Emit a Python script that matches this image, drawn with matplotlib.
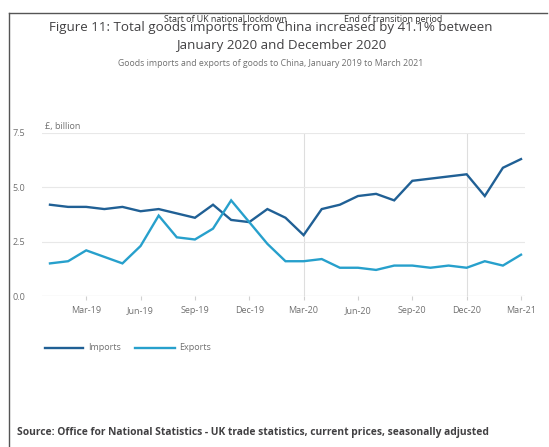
import matplotlib
matplotlib.use("Agg")
import matplotlib.pyplot as plt
from matplotlib.lines import Line2D

plt.rcParams['font.family'] = ['Open Sans', 'DejaVu Sans']

months = ["Jan-19", "Feb-19", "Mar-19", "Apr-19", "May-19", "Jun-19", "Jul-19", "Aug-19", "Sep-19",
          "Oct-19", "Nov-19", "Dec-19", "Jan-20", "Feb-20", "Mar-20", "Apr-20", "May-20", "Jun-20",
          "Jul-20", "Aug-20", "Sep-20", "Oct-20", "Nov-20", "Dec-20", "Jan-21", "Feb-21", "Mar-21"]
imports = [4.2, 4.1, 4.1, 4.0, 4.1, 3.9, 4.0, 3.8, 3.6, 4.2, 3.5, 3.4, 4.0, 3.6, 2.8, 4.0, 4.2,
           4.6, 4.7, 4.4, 5.3, 5.4, 5.5, 5.6, 4.6, 5.9, 6.3]
exports = [1.5, 1.6, 2.1, 1.8, 1.5, 2.3, 3.7, 2.7, 2.6, 3.1, 4.4, 3.4, 2.4, 1.6, 1.6, 1.7, 1.3,
           1.3, 1.2, 1.4, 1.4, 1.3, 1.4, 1.3, 1.6, 1.4, 1.9]
yticks = [0.0, 2.5, 5.0, 7.5]
tick_labels = ["Mar-19", "Jun-19", "Sep-19", "Dec-19", "Mar-20", "Jun-20", "Sep-20", "Dec-20", "Mar-21"]
events = [("Mar-20", "Start of UK national lockdown"), ("Dec-20", "End of transition period")]

IMP = "#206095"
EXP = "#27a0cc"
W, H = 549, 447
fig = plt.figure(figsize=(W / 100, H / 100), dpi=100)

ax = fig.add_axes([42 / W, 1 - 296 / H, (525 - 42) / W, (296 - 133) / H])
x = list(range(len(months)))
ax.plot(x, imports, color=IMP, lw=1.7, solid_joinstyle='miter')
ax.plot(x, exports, color=EXP, lw=1.7, solid_joinstyle='miter')
ax.set_xlim(-0.44, 26.22)
ax.set_ylim(0, 7.5)
ax.set_yticks(yticks)
ax.set_yticklabels([f"{v:.1f}" for v in yticks])
ax.grid(axis='y', color='#e8e8e8', lw=0.8)
ax.set_axisbelow(True)
tpos = [months.index(m) for m in tick_labels]
ax.set_xticks(tpos)
ax.set_xticklabels(tick_labels)
for s in ax.spines.values():
    s.set_visible(False)
ax.axhline(0, color='#d0d0d0', lw=0.8, zorder=0)
ax.tick_params(axis='x', colors='#d0d0d0', length=3, width=0.8, labelcolor='#707070', labelsize=6.5, pad=4)
ax.tick_params(axis='y', length=0, labelcolor='#707070', labelsize=6.5, pad=12)
for m, _ in events:
    ax.axvline(months.index(m), color='#dedede', lw=0.8, zorder=0)

ax.text(-0.3, 7.6, "£, billion", fontsize=6.5, color='#707070', va='bottom', ha='left')

# event labels (rendered up near the title, as in the original)
fig.text(225 / W, 1 - 20 / H, events[0][1], fontsize=6.4, color='#333333', ha='center', va='center')
fig.text(393 / W, 1 - 20 / H, events[1][1], fontsize=6.4, color='#333333', ha='center', va='center')

fig.text(271 / W, 1 - 27 / H, "Figure 11: Total goods imports from China increased by 41.1% between",
         fontsize=9.6, color='#414042', ha='center', va='center')
fig.text(281 / W, 1 - 45 / H, "January 2020 and December 2020",
         fontsize=9.6, color='#414042', ha='center', va='center')
fig.text(271 / W, 1 - 64 / H, "Goods imports and exports of goods to China, January 2019 to March 2021",
         fontsize=6.35, color='#707070', ha='center', va='center')

# legend
fig.add_artist(Line2D([45 / W, 83 / W], [1 - 348 / H] * 2, color=IMP, lw=1.7))
fig.text(88 / W, 1 - 348 / H, "Imports", fontsize=6.5, color='#707070', va='center')
fig.add_artist(Line2D([135 / W, 175 / W], [1 - 348 / H] * 2, color=EXP, lw=1.7))
fig.text(179 / W, 1 - 348 / H, "Exports", fontsize=6.5, color='#707070', va='center')

fig.text(17 / W, 1 - 433 / H, "Source: Office for National Statistics - UK trade statistics, current prices, seasonally adjusted",
         fontsize=7.35, fontweight='bold', color='#414042', ha='left', va='center')

# frame
fig.add_artist(Line2D([9 / W, 9 / W], [0, 1 - 13 / H], color='#555555', lw=1.0))
fig.add_artist(Line2D([9 / W, 547 / W], [1 - 13 / H] * 2, color='#555555', lw=1.0))

fig.savefig("out.png", dpi=100, facecolor='white')
